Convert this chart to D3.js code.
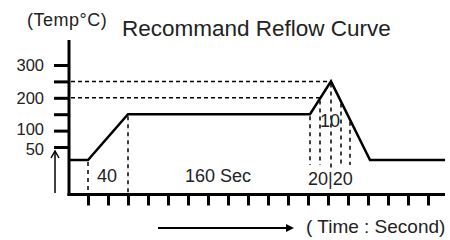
<!DOCTYPE html>
<html>
<head>
<meta charset="utf-8">
<script src="https://cdn.jsdelivr.net/npm/d3@7"></script>
<style>
  body { margin: 0; background: #fff; }
  svg text { font-family: "Liberation Sans", Arial, sans-serif; fill: #222; }
</style>
</head>
<body>
<div id="chart"></div>
<script>
// perfil de temperatura (tempo em s, temperatura em °C)
const profileTime = [0, 20, 60, 242, 263, 302, 377];
const profileTemp = [10, 10, 150, 150, 250, 10, 10];

// linhas tracejadas verticais (tempo) e horizontais (temperatura)
const guideTimes = [20, 60, 242, 252, 263, 273, 282];
const guideLevels = [250, 200];

// eixos
const yTicks = [50, 100, 150, 200, 250, 300];
const yLabels = { 50: "50", 100: "100", 200: "200", 300: "300" };
const xTicks = d3.range(20, 361, 20);

// rotulos de duracao
const durationLabels = [
    { t: 29, text: "40" },
    { t: 117, text: "160 Sec" },
    { t: 240, text: "20|20" },
    { t: 252, text: "10" }
];

const width = 450, height = 240;

const svg = d3.select("#chart")
    .append("svg")
    .attr("width", width)
    .attr("height", height);

// escalas
const x = d3.scaleLinear().domain([0, 377]).range([68, 445]);
const y = d3.scaleLinear().domain([50, 300]).range([147, 65]);

const originX = 69, originY = 194.5;

// Eixo Y (marcas)
svg.append("g")
    .attr("transform", `translate(${originX},0)`)
    .call(d3.axisLeft(y).tickValues(yTicks).tickSize(15).tickPadding(10)
        .tickFormat(d => yLabels[d] || ""))
    .call(g => g.select(".domain").remove())
    .call(g => g.selectAll(".tick line").attr("stroke", "#000").attr("stroke-width", 3))
    .call(g => g.selectAll(".tick text")
        .style("font-size", "16.5px")
        .style("font-family", "'Liberation Sans', Arial, sans-serif")
        .attr("fill", "#222")
        // afastar um pouco 100 e 50, que ficam muito juntos
        .attr("dy", d => d === 50 ? "0.45em" : (d === 100 ? "0.25em" : "0.32em")));

// Eixo X (marcas)
svg.append("g")
    .attr("transform", `translate(0,${originY})`)
    .call(d3.axisBottom(x).tickValues(xTicks).tickSize(11).tickFormat(""))
    .call(g => g.select(".domain").remove())
    .call(g => g.selectAll(".tick line").attr("stroke", "#000").attr("stroke-width", 3));

// linhas dos eixos
svg.append("line")
    .attr("x1", originX).attr("x2", originX)
    .attr("y1", 40).attr("y2", originY + 1.5)
    .attr("stroke", "#000").attr("stroke-width", 3);

svg.append("line")
    .attr("x1", originX - 1.5).attr("x2", x(377))
    .attr("y1", originY).attr("y2", originY)
    .attr("stroke", "#000").attr("stroke-width", 3);

// temperatura da curva num instante
const tempAt = d3.scaleLinear().domain(profileTime).range(profileTemp);
const peakTime = profileTime[d3.maxIndex(profileTemp)];

// tracejadas horizontais
guideLevels.forEach(level => {
    // instante em que a subida atinge o nivel
    const tRise = d3.scaleLinear().domain([150, 250]).range([profileTime[3], profileTime[4]])(level);
    svg.append("line")
        .attr("x1", originX + 2).attr("x2", x(tRise))
        .attr("y1", y(level)).attr("y2", y(level))
        .attr("stroke", "#000").attr("stroke-width", 1.5)
        .attr("stroke-dasharray", "4,3");
});

// tracejadas verticais
guideTimes.forEach(t => {
    const bottom = t < 100 ? originY - 1 : (t === peakTime ? 168 : 165);
    svg.append("line")
        .attr("x1", x(t)).attr("x2", x(t))
        .attr("y1", y(tempAt(t)) + 2).attr("y2", bottom)
        .attr("stroke", "#000").attr("stroke-width", 1.5)
        .attr("stroke-dasharray", "4,4");
});

// curva
const line = d3.line()
    .x(d => x(d[0]))
    .y(d => y(d[1]));

svg.append("path")
    .datum(profileTime.map((t, i) => [t, profileTemp[i]]))
    .attr("d", line)
    .attr("fill", "none")
    .attr("stroke", "#000")
    .attr("stroke-width", 2.5)
    .attr("stroke-linejoin", "miter");

// rotulos de duracao
durationLabels.forEach(d => {
    svg.append("text")
        .attr("x", x(d.t))
        .attr("y", d.text === "10" ? 127 : (d.text === "20|20" ? 185 : 182))
        .style("font-size", "18px")
        .text(d.text);
});

// titulos
svg.append("text")
    .attr("x", 27).attr("y", 26)
    .style("font-size", "18px")
    .style("letter-spacing", "0.5px")
    .text("(Temp°C)");

svg.append("text")
    .attr("x", 122).attr("y", 35.5)
    .style("font-size", "22.5px")
    .text("Recommand Reflow Curve");

svg.append("text")
    .attr("x", 306).attr("y", 233)
    .style("font-size", "19px")
    .text("( Time : Second)");

// setas
svg.append("line")
    .attr("x1", 55).attr("x2", 55).attr("y1", 193).attr("y2", 152)
    .attr("stroke", "#000").attr("stroke-width", 1.5);
svg.append("path")
    .attr("d", "M51,158 L55,151 L59,158")
    .attr("fill", "none").attr("stroke", "#000").attr("stroke-width", 1.5);

svg.append("line")
    .attr("x1", 158).attr("x2", 292).attr("y1", 228).attr("y2", 228)
    .attr("stroke", "#000").attr("stroke-width", 2);
svg.append("path")
    .attr("d", "M286,224 L294,228 L286,232 Z")
    .attr("fill", "#000");
</script>
</body>
</html>
